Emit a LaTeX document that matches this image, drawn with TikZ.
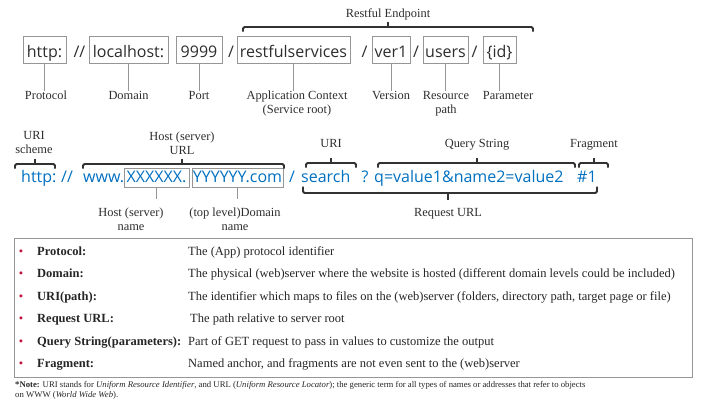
\documentclass[tikz,border=0pt]{standalone}
\usepackage{fontspec}
\setmainfont{Liberation Serif}
\newfontfamily\urlfont{Open Sans}
\definecolor{urlblue}{RGB}{0,112,192}
\definecolor{bulletred}{RGB}{192,20,60}
\definecolor{linegray}{RGB}{150,150,150}
\definecolor{bracegray}{RGB}{50,50,50}
\definecolor{txtgray}{RGB}{45,45,45}
\newcommand\mybraceup[4]{%
  \draw[brc] (#1,#4+4.5) -- (#1,#4) -- (#2,#4) -- (#2,#4+4.5);
  \draw[brc,rounded corners=0pt] (#3,#4) -- (#3,#4-5.5);}
\newcommand\mybracedown[4]{%
  \draw[brc] (#1,#4-6.5) -- (#1,#4) -- (#2,#4) -- (#2,#4-6.5);
  \draw[brc,rounded corners=0pt] (#3,#4) -- (#3,#4+7);}
\tikzset{
  urlbox/.style={draw=linegray, line width=0.8pt, minimum height=27pt, inner sep=0pt,
     text height=17.5pt, text depth=2.5pt, font=\urlfont\fontsize{16}{19}\selectfont, text=txtgray},
  urltxt/.style={inner sep=0pt, font=\urlfont\fontsize{16}{19}\selectfont, text=txtgray},
  blubox/.style={draw=linegray, line width=0.8pt, minimum height=19pt, inner sep=0pt,
     text height=13pt, text depth=4pt, font=\urlfont\fontsize{16}{19}\selectfont, text=urlblue},
  blutxt/.style={inner sep=0pt, font=\urlfont\fontsize{16}{19}\selectfont, text=urlblue},
  lbl/.style={inner sep=0pt, align=center, font=\fontsize{12.4}{14}\selectfont, text=txtgray},
  conn/.style={draw=linegray, line width=0.7pt},
  brc/.style={draw=bracegray, line width=1.8pt, rounded corners=1.5pt},
  tbl/.style={inner sep=0pt, anchor=base west, font=\fontsize{12.5}{14}\selectfont, text=black!85},
  bul/.style={inner sep=0pt, anchor=base, font=\fontsize{12.4}{14}\selectfont, text=bulletred},
  note/.style={inner sep=0pt, anchor=base west, font=\fontsize{8.7}{10}\selectfont, text=black!85}
}
\begin{document}
\begin{tikzpicture}[x=1pt,y=-1pt]
\useasboundingbox (0,0) rectangle (702,402);
% ---------- Row 1 ----------
\node[urlbox, minimum width=43pt] (http) at (44.5,49.5) {http:};
\node[urltxt, anchor=base] (sl0) at (79.5,57) {//};
\node[urlbox, minimum width=79pt] (host) at (128.5,49.5) {localhost:};
\node[urlbox, minimum width=46pt] (port) at (199,49.5) {9999};
\node[urltxt, anchor=base] (sl1) at (231,57) {/};
\node[urlbox, minimum width=113pt] (ctx) at (293.5,49.5) {restfulservices};
\node[urltxt, anchor=base] (sl2) at (364.5,57) {/};
\node[urlbox, minimum width=38pt] (ver) at (391,49.5) {ver1};
\node[urltxt, anchor=base] (sl3) at (416,57) {/};
\node[urlbox, minimum width=45pt] (res) at (445.5,49.5) {users};
\node[urltxt, anchor=base] (sl4) at (474.5,57) {/};
\node[urlbox, minimum width=33pt] (par) at (499.5,49.5) {\{id\}};

\node[lbl, anchor=north] (lprot) at (46,91) {Protocol};
\node[lbl, anchor=north] (ldom) at (128.5,91) {Domain};
\node[lbl, anchor=north] (lport) at (199,91) {Port};
\node[lbl, anchor=north] (lctx) at (297,91) {Application Context\\(Service root)};
\node[lbl, anchor=north] (lver) at (391,91) {Version};
\node[lbl, anchor=north] (lres) at (446,91) {Resource\\path};
\node[lbl, anchor=north] (lpar) at (508,91) {Parameter};

\draw[conn] (http.south) -- (http.south |- lprot.north);
\draw[conn] (host.south) -- (host.south |- ldom.north);
\draw[conn] (port.south) -- (port.south |- lport.north);
\draw[conn] (ctx.south) -- (ctx.south |- lctx.north);
\draw[conn] (ver.south) -- (ver.south |- lver.north);
\draw[conn] (res.south) -- (res.south |- lres.north);
\draw[conn] (par.south) -- (par.south |- lpar.north);

\mybraceup{243}{533}{388}{27}
\node[lbl, anchor=base] (lrest) at (388,17.5) {Restful Endpoint};

% ---------- Row 2 ----------
\node[blutxt, anchor=base west] (bhttp) at (21,182) {http:};
\node[blutxt, anchor=base west] (bsl) at (61,182) {//};
\node[blutxt, anchor=base west] (bwww) at (83,182) {www.};
\node[blubox, minimum width=65pt] (bx) at (156.5,177.5) {XXXXXX.};
\node[blubox, minimum width=91pt] (by) at (237.5,177.5) {YYYYYY.com};
\node[blutxt, anchor=base] (bsl2) at (292,182) {/};
\node[blutxt, anchor=base west] (bsearch) at (301,182) {search};
\node[blutxt, anchor=base] (bq) at (365,182) {?};
\node[blutxt, anchor=base west] (bquery) at (374,182) {q=value1\&name2=value2};
\node[blutxt, anchor=base west] (bfrag) at (577,182) {\#1};

\mybraceup{15}{55}{35}{164}
\mybraceup{83}{284}{182}{164}
\mybraceup{306}{356}{331}{163}
\mybraceup{378}{575}{477}{163}
\mybraceup{579}{608}{594}{163}
\mybracedown{303}{597}{448}{193}

\node[lbl, anchor=north] (lscheme) at (34,131.5) {URI\\scheme};
\node[lbl, anchor=north] (lhosturl) at (182,132) {Host (server)\\URL};
\node[lbl, anchor=base] (luri) at (331,147) {URI};
\node[lbl, anchor=base] (lqs) at (477,147) {Query String};
\node[lbl, anchor=base] (lfrag) at (594,147) {Fragment};
\node[lbl, anchor=base] (lreq) at (448,216) {Request URL};

\node[lbl, anchor=north] (lhn) at (131,208) {Host (server)\\name};
\node[lbl, anchor=north] (ldn) at (235,208) {(top level)Domain\\name};
\draw[conn, shorten >=9pt] (bx.south) -- (bx.south |- lhn.north);
\draw[conn, shorten >=9pt] (by.south) -- (by.south |- ldn.north);

% ---------- Table ----------
\node[draw=linegray, line width=0.8pt, minimum width=678pt, minimum height=139pt, inner sep=0pt] (tbox) at (353,307.5) {};
\node[bul] (b1) at (21,255) {•};
\node[bul] (b2) at (21,277.5) {•};
\node[bul] (b3) at (21,300) {•};
\node[bul] (b4) at (21,322.5) {•};
\node[bul] (b5) at (21,345) {•};
\node[bul] (b6) at (21,367.5) {•};
\node[tbl] (k1) at (37,255) {\textbf{Protocol:}};
\node[tbl] (k2) at (37,277.5) {\textbf{Domain:}};
\node[tbl] (k3) at (37,300) {\textbf{URI(path):}};
\node[tbl] (k4) at (37,322.5) {\textbf{Request URL:}};
\node[tbl] (k5) at (37,345) {\textbf{Query String(parameters):}};
\node[tbl] (k6) at (37,367.5) {\textbf{Fragment:}};
\node[tbl] (d1) at (188,255) {The (App) protocol identifier};
\node[tbl] (d2) at (188,277.5) {The physical (web)server where the website is hosted (different domain levels could be included)};
\node[tbl] (d3) at (188,300) {The identifier which maps to files on the (web)server (folders, directory path, target page or file)};
\node[tbl] (d4) at (190,322.5) {The path relative to server root};
\node[tbl] (d5) at (188,345) {Part of GET request to pass in values to customize the output};
\node[tbl] (d6) at (188,367.5) {Named anchor, and fragments are not even sent to the (web)server};

\node[note] (n1) at (15,387) {\textbf{*Note:} URI stands for \textit{Uniform Resource Identifier}, and URL (\textit{Uniform Resource Locator}); the generic term for all types of names or addresses that refer to objects};
\node[note] (n2) at (15,397) {on WWW (\textit{World Wide Web}).};
\end{tikzpicture}
\end{document}
